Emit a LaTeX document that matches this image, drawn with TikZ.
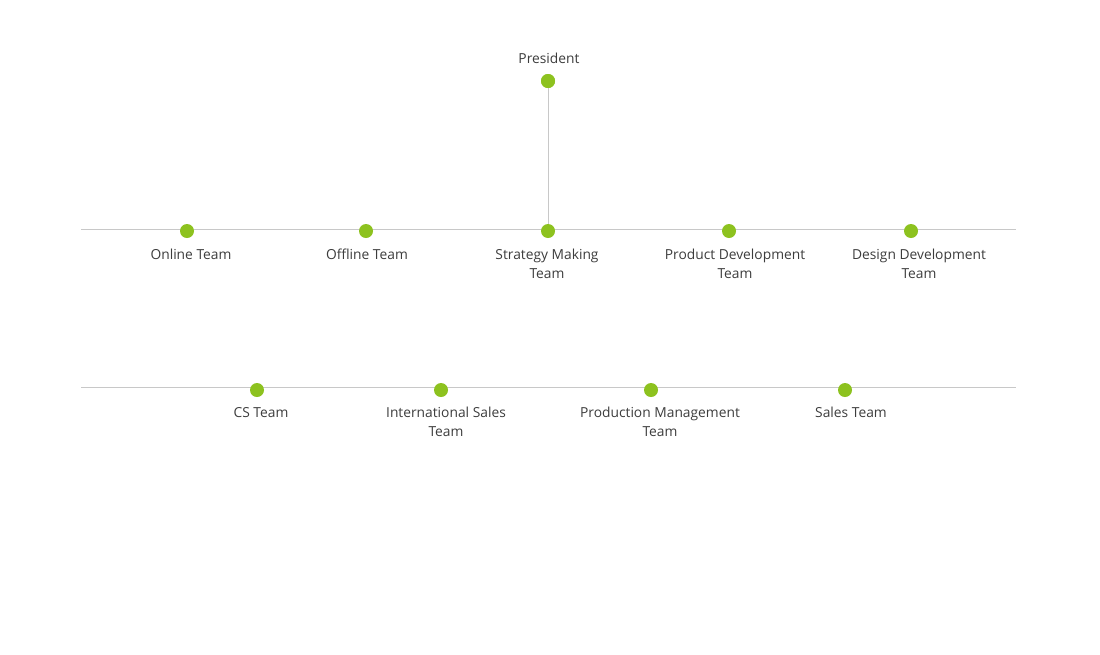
\documentclass[tikz,border=0pt]{standalone}
\usepackage{fontspec}
\setmainfont{Open Sans}
\definecolor{dotgreen}{HTML}{8DC21F}
\definecolor{linegray}{HTML}{C8C8C8}
\definecolor{txt}{HTML}{3C3C3C}
\begin{document}
\begin{tikzpicture}[x=1pt,y=-1pt,
  dotnode/.style={circle,fill=dotgreen,minimum size=14pt,inner sep=0pt},
  lbl/.style={text=txt,font=\fontsize{13.8}{19.2}\selectfont,align=center,anchor=north,inner sep=0pt},
  conn/.style={draw=linegray,line width=0.8pt}]
\useasboundingbox (0,0) rectangle (1100,654);
% horizontal lines
\coordinate (l1a) at (81,229);
\coordinate (l1b) at (1016,229);
\coordinate (l2a) at (81,387);
\coordinate (l2b) at (1016,387);
\draw[conn] (l1a) -- (l1b);
\draw[conn] (l2a) -- (l2b);
% president
\node[dotnode] (pres) at (548,81) {};
\coordinate (pbot) at (548,229);
\draw[conn] (pres.center) -- (pbot);
\node[dotnode] (pres) at (548,81) {};
\node[lbl,anchor=base] (presl) at (549,63.5) {President};
% row 1
\node[dotnode] (d1) at (187,231) {};
\node[dotnode] (d2) at (366,231) {};
\node[dotnode] (d3) at (548,231) {};
\node[dotnode] (d4) at (729,231) {};
\node[dotnode] (d5) at (911,231) {};
\node[lbl] (t1) at (191,249) {Online Team};
\node[lbl] (t2) at (367,249) {Offline Team};
\node[lbl] (t3) at (547,249) {Strategy Making\\Team};
\node[lbl] (t4) at (735,249) {Product Development\\Team};
\node[lbl] (t5) at (919,249) {Design Development\\Team};
% row 2
\node[dotnode] (e1) at (257,390) {};
\node[dotnode] (e2) at (441,390) {};
\node[dotnode] (e3) at (651,390) {};
\node[dotnode] (e4) at (845,390) {};
\node[lbl] (s1) at (261,407) {CS Team};
\node[lbl] (s2) at (446,407) {International Sales\\Team};
\node[lbl] (s3) at (660,407) {Production Management\\Team};
\node[lbl] (s4) at (851,407) {Sales Team};
\end{tikzpicture}
\end{document}
